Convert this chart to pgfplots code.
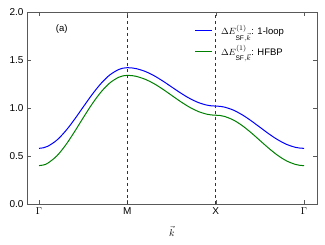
\documentclass[border=0pt]{standalone}
\usepackage{fontspec}
\setmainfont{Liberation Sans}
\usepackage{pgfplots}
\pgfplotsset{compat=1.18}
\begin{document}
\begin{tikzpicture}[x=1pt,y=1pt]
\begin{axis}[
  scale only axis, width=290pt, height=192pt,
  xmin=-0.136, xmax=3.147, ymin=0, ymax=2.0,
  xtick={0,1,2,3}, xticklabels={$\Gamma$,$\mathrm{M}$,$\mathrm{X}$,$\Gamma$},
  ytick={0,0.5,1.0,1.5,2.0},
  yticklabel style={/pgf/number format/fixed,/pgf/number format/fixed zerofill,/pgf/number format/precision=1},
  /pgf/number format/assume math mode=true,
  tick label style={font=\fontsize{10}{11}\selectfont},
  xlabel={$\vec{k}$}, xlabel style={yshift=-5pt},
  axis line style={gray!70!black},
  tick style={gray!70!black, major tick length=4pt},
  tick align=inside,
  legend style={draw=none, fill=none, at={(0.568,0.955)}, anchor=north west,
    font=\fontsize{9.5}{11}\selectfont, row sep=5pt},
  legend image code/.code={\draw[#1, line width=1.1pt] (0pt,0pt) -- (17pt,0pt);},
  legend cell align=left,
  clip=false,
]
\addplot[blue, line width=1pt, smooth, tension=0.55] coordinates {
(0.0,0.58) (0.05,0.5854) (0.1,0.6015) (0.2,0.6637) (0.3,0.7597) (0.4,0.8793) (0.5,1.01) (0.6,1.1388) (0.7,1.2534) (0.8,1.3433) (0.9,1.4004) (0.95,1.4151) (1.0,1.42)
(1.05,1.4175) (1.1,1.4102) (1.2,1.3818) (1.3,1.3376) (1.4,1.2818) (1.5,1.22) (1.6,1.1582) (1.7,1.1024) (1.8,1.0582) (1.9,1.0298) (1.95,1.0225) (2.0,1.02)
(2.05,1.0173) (2.1,1.0092) (2.2,0.978) (2.3,0.9293) (2.4,0.868) (2.5,0.80) (2.6,0.732) (2.7,0.6707) (2.8,0.622) (2.9,0.5908) (2.95,0.5827) (3.0,0.58)
};
\addlegendentry{\hspace{6pt}$\Delta E^{(1)}_{\mathrm{SF},\vec{k}}$: 1-loop}
\addplot[green!50!black, line width=1pt, smooth, tension=0.55] coordinates {
(0.0,0.40) (0.05,0.4065) (0.1,0.4256) (0.2,0.4993) (0.3,0.6117) (0.4,0.7497) (0.5,0.8975) (0.6,1.0401) (0.7,1.1643) (0.8,1.2597) (0.9,1.3196) (0.95,1.3349) (1.0,1.34)
(1.05,1.3375) (1.1,1.3299) (1.2,1.2998) (1.3,1.2545) (1.4,1.1966) (1.5,1.1325) (1.6,1.0684) (1.7,1.0105) (1.8,0.9646) (1.9,0.9352) (1.95,0.9276) (2.0,0.925)
(2.05,0.9218) (2.1,0.9122) (2.2,0.8749) (2.3,0.8168) (2.4,0.7436) (2.5,0.6625) (2.6,0.5814) (2.7,0.5082) (2.8,0.4501) (2.9,0.4128) (2.95,0.4032) (3.0,0.40)
};
\addlegendentry{\hspace{6pt}$\Delta E^{(1)}_{\mathrm{SF},\vec{k}}$: HFBP}
\addplot[black!80, dashed, thin, forget plot] coordinates {(1,0) (1,2)};
\addplot[black!80, dashed, thin, forget plot] coordinates {(2,0) (2,2)};
\node[font=\fontsize{9.5}{11}\selectfont] at (axis description cs:0.12,0.91) {(a)};
\end{axis}
\path (current axis.south west) ++(-27pt,-41pt) coordinate (bbA);
\path (current axis.north east) ++(8pt,12pt) coordinate (bbB);
\useasboundingbox (bbA) rectangle (bbB);
\end{tikzpicture}
\end{document}
